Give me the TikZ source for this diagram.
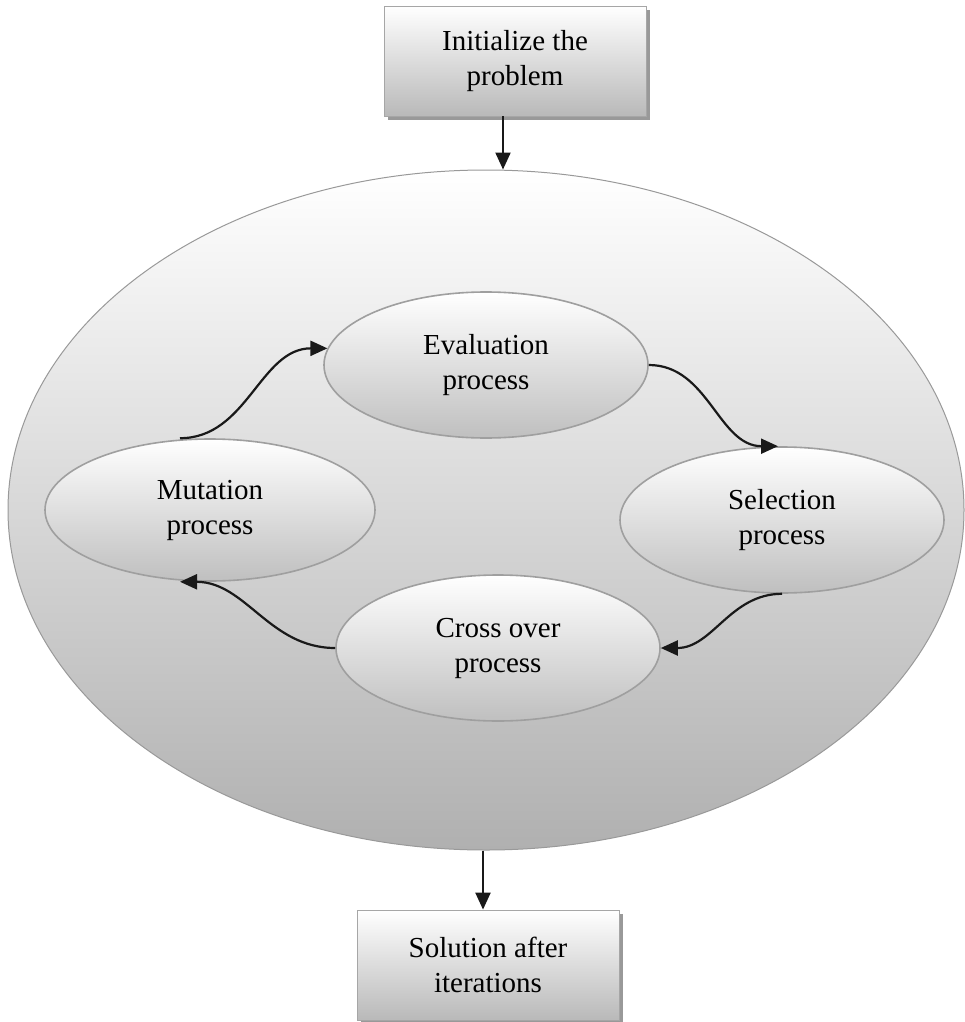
\documentclass[tikz,border=0pt]{standalone}
\usepackage{fontspec}
\setmainfont{Liberation Serif}
\usetikzlibrary{shapes.geometric,arrows.meta,shadows}
\begin{document}
\begin{tikzpicture}[x=1pt,y=-1pt,
  txt/.style={font=\fontsize{29}{35}\selectfont, align=center, text=black},
  boxnode/.style={txt, draw=gray!70, line width=0.8pt, top color=white, bottom color=gray!55,
     minimum width=262pt, minimum height=110pt,
     drop shadow={shadow xshift=4pt, shadow yshift=-4pt, fill=gray!80, opacity=1}},
  procnode/.style={txt, ellipse, draw=gray!75, line width=1.6pt, top color=white, bottom color=gray!50,
     minimum width=324pt, minimum height=146pt, inner sep=0pt},
  bignode/.style={ellipse, draw=gray!80, line width=1pt, top color=white, middle color=gray!12, bottom color=gray!62,
     minimum width=956pt, minimum height=680pt, inner sep=0pt},
  flow/.style={line width=2.2pt, black!90, -{Triangle[length=17pt,width=15pt]}}
]
\useasboundingbox (0,0) rectangle (965,1022);
\node[bignode] (big) at (486,510) {};
\node[boxnode] (init) at (515,61) {Initialize the\\problem};
\node[boxnode] (sol) at (488,965) {Solution after\\iterations};
\node[procnode] (eval) at (486,365) {Evaluation\\process};
\node[procnode, minimum width=330pt, minimum height=142pt] (mut) at (210,510) {Mutation\\process};
\node[procnode] (sel) at (782,520) {Selection\\process};
\node[procnode] (cross) at (498,648) {Cross over\\process};
\coordinate (inA) at ([xshift=-12pt]init.south);
\coordinate (solA) at ([xshift=-5pt]sol.north);
\draw[flow] (inA) -- (inA |- big.north);
\draw[flow] (solA |- big.south) -- (solA);
\draw[flow] ([xshift=-30pt]mut.north) to[out=0,in=180] (eval.174);
\draw[flow] (eval.east) to[out=0,in=180] ([xshift=-4pt]sel.north);
\draw[flow] (sel.south) to[out=180,in=0] (cross.east);
\draw[flow] (cross.west) to[out=180,in=0] ([xshift=-30pt]mut.south);
\end{tikzpicture}
\end{document}
